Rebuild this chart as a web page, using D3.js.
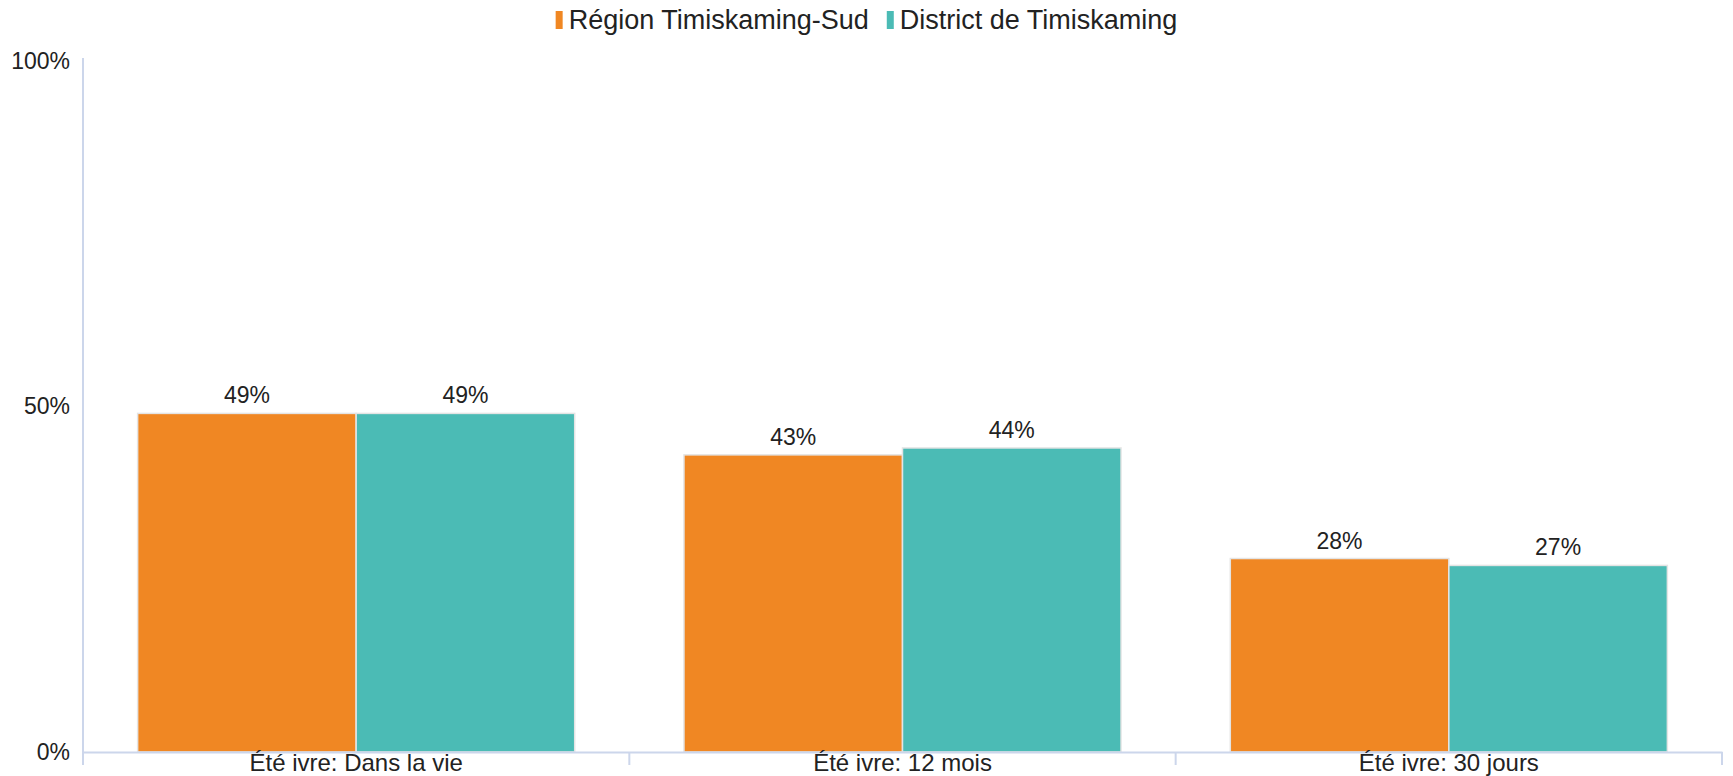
<!DOCTYPE html>
<html>

<head>
  <title>Été ivre</title>
  <meta charset="UTF-8">
  <script src="https://d3js.org/d3.v7.min.js"></script>
  <style type="text/css">
    body {
      margin: 0;
      background: #fff;
      font-family: "Liberation Sans", Arial, sans-serif;
    }
  </style>
</head>

<body>
  <script type="text/javascript">
    // chart data
    var categories = ['Été ivre: Dans la vie', 'Été ivre: 12 mois', 'Été ivre: 30 jours'];
    var seriesNames = ['Région Timiskaming-Sud', 'District de Timiskaming'];
    var regionValues = [49, 43, 28];
    var districtValues = [49, 44, 27];
    var yTicks = [0, 50, 100];
    var colors = ['#f08723', '#4bbbb5'];

    var width = 1733, height = 776;
    var margin = { top: 61, right: 11, bottom: 24, left: 83 };

    var svg = d3.select('body').append('svg')
      .attr('width', width)
      .attr('height', height);

    // scales
    var x = d3.scaleBand()
      .domain(categories)
      .range([margin.left, width - margin.right])
      .padding(0);

    var xSub = d3.scaleBand()
      .domain(seriesNames)
      .range([0, x.bandwidth()])
      .paddingInner(0)
      .paddingOuter(0.25);

    var y = d3.scaleLinear()
      .domain([0, 100])
      .range([height - margin.bottom, margin.top]);

    // y axis: labels only + line
    var yAxis = svg.append('g')
      .attr('transform', 'translate(' + margin.left + ',0)')
      .call(d3.axisLeft(y).tickValues(yTicks).tickSize(0).tickPadding(13)
        .tickFormat(function (d) { return d + '%'; }));
    yAxis.select('.domain').remove();
    yAxis.selectAll('text')
      .style('font-size', '23px')
      .style('font-family', '"Liberation Sans", Arial, sans-serif')
      .attr('fill', '#222');

    svg.append('line')
      .attr('x1', margin.left).attr('x2', margin.left)
      .attr('y1', margin.top - 3).attr('y2', y(0))
      .attr('stroke', '#ccd6eb')
      .attr('stroke-width', 2);

    // bars
    var rows = categories.map(function (c, i) {
      return { cat: c, values: [regionValues[i], districtValues[i]] };
    });

    var groups = svg.selectAll('.group')
      .data(rows)
      .enter().append('g')
      .attr('class', 'group')
      .attr('transform', function (d) { return 'translate(' + x(d.cat) + ',0)'; });

    groups.selectAll('rect')
      .data(function (d) {
        return seriesNames.map(function (s, j) { return { s: s, v: d.values[j], j: j }; });
      })
      .enter().append('rect')
      .attr('x', function (d) { return xSub(d.s); })
      .attr('y', function (d) { return y(d.v); })
      .attr('width', xSub.bandwidth())
      .attr('height', function (d) { return y(0) - y(d.v); })
      .attr('fill', function (d) { return colors[d.j]; })
      .attr('stroke', '#e4e4e4')
      .attr('stroke-width', 1.5);

    groups.selectAll('.val')
      .data(function (d) {
        return seriesNames.map(function (s, j) { return { s: s, v: d.values[j] }; });
      })
      .enter().append('text')
      .attr('class', 'val')
      .attr('x', function (d) { return xSub(d.s) + xSub.bandwidth() / 2; })
      .attr('y', function (d) { return y(d.v) - 10; })
      .attr('text-anchor', 'middle')
      .style('font-size', '23px')
      .attr('fill', '#222')
      .text(function (d) { return d.v + '%'; });

    // x axis
    var xAxis = svg.append('g')
      .attr('transform', 'translate(0,' + y(0) + ')')
      .call(d3.axisBottom(x).tickSize(0).tickPadding(2));
    xAxis.select('.domain')
      .attr('stroke', '#ccd6eb')
      .attr('stroke-width', 2);
    xAxis.selectAll('text')
      .style('font-size', '24px')
      .style('font-family', '"Liberation Sans", Arial, sans-serif')
      .attr('fill', '#222');

    // tick marks at band boundaries
    var bounds = categories.map(function (c) { return x(c); }).concat([x.range()[1]]);
    svg.append('g').selectAll('line')
      .data(bounds)
      .enter().append('line')
      .attr('x1', function (d) { return d; })
      .attr('x2', function (d) { return d; })
      .attr('y1', y(0))
      .attr('y2', y(0) + 13)
      .attr('stroke', '#ccd6eb')
      .attr('stroke-width', 2);

    // legend
    var legend = svg.append('g');
    var items = legend.selectAll('g')
      .data(seriesNames)
      .enter().append('g');
    items.append('rect')
      .attr('y', 11)
      .attr('width', 7)
      .attr('height', 18)
      .attr('fill', function (d, i) { return colors[i]; });
    items.append('text')
      .attr('x', 13)
      .attr('y', 29)
      .style('font-size', '27px')
      .attr('fill', '#222')
      .text(function (d) { return d; });

    var pos = 0;
    items.each(function () {
      var w = this.getBBox().width;
      d3.select(this).attr('transform', 'translate(' + pos + ',0)');
      pos += w + 18;
    });
    pos -= 18;
    legend.attr('transform', 'translate(' + ((width - pos) / 2) + ',0)');
  </script>
</body>

</html>
